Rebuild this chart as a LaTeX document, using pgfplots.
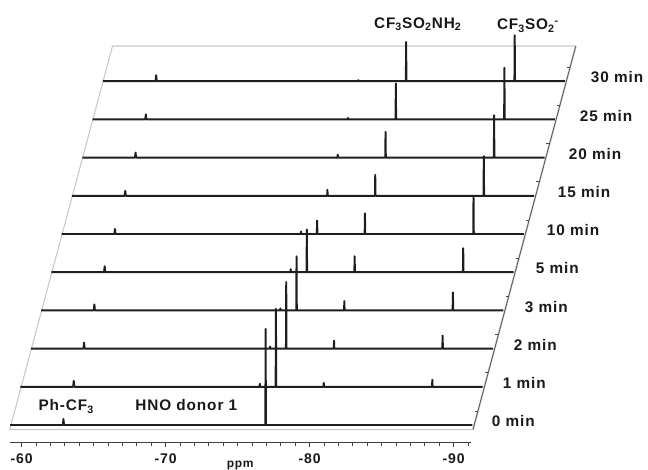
\documentclass[border=0pt]{standalone}
\usepackage{pgfplots}
\pgfplotsset{compat=1.18}
\usepackage{fontspec}
\setmainfont{Liberation Sans}[LetterSpace=6]
\definecolor{trace}{HTML}{1E1E1E}
\definecolor{framec}{HTML}{C8C8C8}
\tikzset{trc/.style={trace, line width=1.45pt, line join=round, line cap=butt, mark=none},
  lab/.style={font=\bfseries\fontsize{11.5}{13}\selectfont, text=black!90, inner sep=0pt},
  rt/.style={black!70, line width=0.5pt}}
\begin{document}
\begin{tikzpicture}
\begin{axis}[
  x=10.8pt, y=0.75pt, x dir=reverse,
  xmin=-91.2, xmax=-59.18, ymin=-17.7, ymax=400,
  clip=false,
  axis x line=bottom, axis y line=none,
  axis line style={-, draw=black!75, line width=0.9pt},
  xtick={-60,-70,-80,-90}, xticklabels={-60,-70,-80,-90},
  minor xtick={-61,-62,...,-69,-71,-72,...,-79,-81,-82,...,-89,-91},
  tick align=outside,
  major tick length=3pt, minor tick length=2.5pt,
  every tick/.style={black!75, line width=0.7pt},
  xticklabel style={font=\bfseries\fontsize{10.5}{12}\selectfont, text=black!90, yshift=-1.5pt},
]
% frame
\draw[framec, line width=0.8pt] (axis cs:-91.34,-4.5) -- (axis cs:-59.17,-4.5) -- (axis cs:-66.31,379) -- (axis cs:-98.48,379);
\draw[framec, line width=1.4pt] (axis cs:-91.34,-4.5) -- (axis cs:-98.48,379);
\draw[black!70, line width=0.5pt] (axis cs:-91.34,-4.5) -- (axis cs:-98.48,379);
\draw[rt] (axis cs:-91.684,14) -- (axis cs:-91.464,14);
\draw[rt] (axis cs:-92.395,52.2) -- (axis cs:-92.175,52.2);
\draw[rt] (axis cs:-93.106,90.4) -- (axis cs:-92.886,90.4);
\draw[rt] (axis cs:-93.818,128.6) -- (axis cs:-93.598,128.6);
\draw[rt] (axis cs:-94.529,166.8) -- (axis cs:-94.309,166.8);
\draw[rt] (axis cs:-95.240,205.0) -- (axis cs:-95.020,205.0);
\draw[rt] (axis cs:-95.951,243.2) -- (axis cs:-95.731,243.2);
\draw[rt] (axis cs:-96.662,281.4) -- (axis cs:-96.442,281.4);
\draw[rt] (axis cs:-97.374,319.6) -- (axis cs:-97.154,319.6);
\draw[rt] (axis cs:-98.085,357.8) -- (axis cs:-97.865,357.8);

% 0 min
\addplot[trc] table[x expr=\thisrow{x}-0.7153*0, y expr=\thisrow{y}+38.2*0, row sep=\\] {
x y\\ -59.2 0\\ -62.86 0\\ -62.90 6\\ -62.94 0\\ -76.92 0\\ -76.94 96\\ -76.96 0\\ -91.3 0\\};
% 1 min
\addplot[trc] table[x expr=\thisrow{x}-0.7153*1, y expr=\thisrow{y}+38.2*1, row sep=\\] {
x y\\ -59.2 0\\ -62.86 0\\ -62.90 6\\ -62.94 0\\ -75.80 0\\ -75.82 3\\ -75.84 0\\ -76.92 0\\ -76.94 78\\ -76.96 0\\ -80.24 0\\ -80.26 4\\ -80.28 0\\ -87.78 0\\ -87.80 7\\ -87.82 0\\ -91.3 0\\};
% 2 min
\addplot[trc] table[x expr=\thisrow{x}-0.7153*2, y expr=\thisrow{y}+38.2*2, row sep=\\] {
x y\\ -59.2 0\\ -62.86 0\\ -62.90 6\\ -62.94 0\\ -75.80 0\\ -75.82 2\\ -75.84 0\\ -76.92 0\\ -76.94 66.6\\ -76.96 0\\ -80.24 0\\ -80.26 8\\ -80.28 0\\ -87.78 0\\ -87.80 13\\ -87.82 0\\ -91.3 0\\};
% 3 min
\addplot[trc] table[x expr=\thisrow{x}-0.7153*3, y expr=\thisrow{y}+38.2*3, row sep=\\] {
x y\\ -59.2 0\\ -62.86 0\\ -62.90 6\\ -62.94 0\\ -75.80 0\\ -75.82 2\\ -75.84 0\\ -76.92 0\\ -76.94 54\\ -76.96 0\\ -80.24 0\\ -80.26 9.3\\ -80.28 0\\ -87.78 0\\ -87.80 18\\ -87.82 0\\ -91.3 0\\};
% 5 min
\addplot[trc] table[x expr=\thisrow{x}-0.7153*4, y expr=\thisrow{y}+38.2*4, row sep=\\] {
x y\\ -59.2 0\\ -62.86 0\\ -62.90 6\\ -62.94 0\\ -75.80 0\\ -75.82 3\\ -75.84 0\\ -76.92 0\\ -76.94 42.7\\ -76.96 0\\ -80.24 0\\ -80.26 16\\ -80.28 0\\ -87.78 0\\ -87.80 24\\ -87.82 0\\ -91.3 0\\};
% 10 min
\addplot[trc] table[x expr=\thisrow{x}-0.7153*5, y expr=\thisrow{y}+38.2*5, row sep=\\] {
x y\\ -59.2 0\\ -62.86 0\\ -62.90 5\\ -62.94 0\\ -75.80 0\\ -75.82 2.5\\ -75.84 0\\ -76.92 0\\ -76.94 13.5\\ -76.96 0\\ -80.24 0\\ -80.26 20.7\\ -80.28 0\\ -87.78 0\\ -87.80 38\\ -87.82 0\\ -91.3 0\\};
% 15 min
\addplot[trc] table[x expr=\thisrow{x}-0.7153*6, y expr=\thisrow{y}+38.2*6, row sep=\\] {
x y\\ -59.2 0\\ -62.86 0\\ -62.90 5\\ -62.94 0\\ -76.92 0\\ -76.94 6\\ -76.96 0\\ -80.24 0\\ -80.26 21\\ -80.28 0\\ -87.78 0\\ -87.80 39.6\\ -87.82 0\\ -91.3 0\\};
% 20 min
\addplot[trc] table[x expr=\thisrow{x}-0.7153*7, y expr=\thisrow{y}+38.2*7, row sep=\\] {
x y\\ -59.2 0\\ -62.86 0\\ -62.90 5\\ -62.94 0\\ -76.92 0\\ -76.94 3\\ -76.96 0\\ -80.24 0\\ -80.26 25.7\\ -80.28 0\\ -87.78 0\\ -87.80 42.3\\ -87.82 0\\ -91.3 0\\};
% 25 min
\addplot[trc] table[x expr=\thisrow{x}-0.7153*8, y expr=\thisrow{y}+38.2*8, row sep=\\] {
x y\\ -59.2 0\\ -62.86 0\\ -62.90 5\\ -62.94 0\\ -76.92 0\\ -76.94 1.5\\ -76.96 0\\ -80.24 0\\ -80.26 36\\ -80.28 0\\ -87.78 0\\ -87.80 51.6\\ -87.82 0\\ -91.3 0\\};
% 30 min
\addplot[trc] table[x expr=\thisrow{x}-0.7153*9, y expr=\thisrow{y}+38.2*9, row sep=\\] {
x y\\ -59.2 0\\ -62.86 0\\ -62.90 6\\ -62.94 0\\ -76.92 0\\ -76.94 1\\ -76.96 0\\ -80.24 0\\ -80.26 39.3\\ -80.28 0\\ -87.78 0\\ -87.80 46\\ -87.82 0\\ -91.3 0\\};

% time labels
\node[lab, anchor=base west] at (axis cs:-92.64,-1.7) {0 min};
\node[lab, anchor=base west] at (axis cs:-93.404,36.5) {1 min};
\node[lab, anchor=base west] at (axis cs:-94.168,74.7) {2 min};
\node[lab, anchor=base west] at (axis cs:-94.932,112.9) {3 min};
\node[lab, anchor=base west] at (axis cs:-95.696,151.1) {5 min};
\node[lab, anchor=base west] at (axis cs:-96.46,189.3) {10 min};
\node[lab, anchor=base west] at (axis cs:-97.224,227.5) {15 min};
\node[lab, anchor=base west] at (axis cs:-97.988,265.7) {20 min};
\node[lab, anchor=base west] at (axis cs:-98.752,303.9) {25 min};
\node[lab, anchor=base west] at (axis cs:-99.516,342.1) {30 min};

\node[lab, anchor=base west] at (axis cs:-61.15,14.3) {Ph-CF\textsubscript{3}};
\node[lab, anchor=base west] at (axis cs:-67.87,14.3) {HNO donor 1};
\node[lab, anchor=base east] at (axis cs:-90.56,396.7) {CF\textsubscript{3}SO\textsubscript{2}NH\textsubscript{2}};
\node[lab, anchor=base west] at (axis cs:-92.99,395) {CF\textsubscript{3}SO\textsubscript{2}\textsuperscript{-}};
\node[font=\bfseries\fontsize{9}{10}\selectfont, text=black!90, inner sep=0pt] at (axis cs:-75.17,-41) {ppm};

\coordinate (bbA) at (axis cs:-58.493,425);
\coordinate (bbB) at (axis cs:-103.493,-45);
\end{axis}
\pgfresetboundingbox
\useasboundingbox (bbA) rectangle (bbB);
\end{tikzpicture}
\end{document}
